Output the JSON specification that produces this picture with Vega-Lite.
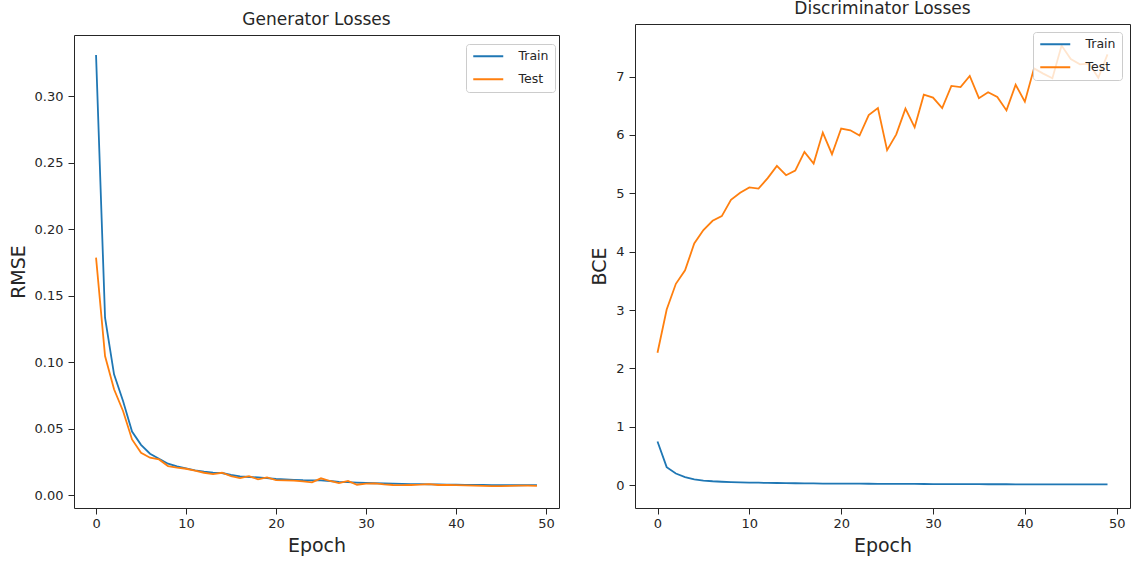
{
  "$schema": "https://vega.github.io/schema/vega-lite/v6.json",
  "padding": {"left": 9, "top": -1, "right": 0, "bottom": 0},
  "background": "white",
  "spacing": 31,
  "datasets": {
    "gen": [
      {"epoch": 0, "series": "Train", "loss": 0.331}, {"epoch": 1, "series": "Train", "loss": 0.1335}, {"epoch": 2, "series": "Train", "loss": 0.091}, {"epoch": 3, "series": "Train", "loss": 0.0709}, {"epoch": 4, "series": "Train", "loss": 0.048}, {"epoch": 5, "series": "Train", "loss": 0.038}, {"epoch": 6, "series": "Train", "loss": 0.0313}, {"epoch": 7, "series": "Train", "loss": 0.0275}, {"epoch": 8, "series": "Train", "loss": 0.0238}, {"epoch": 9, "series": "Train", "loss": 0.0218},
      {"epoch": 10, "series": "Train", "loss": 0.0203}, {"epoch": 11, "series": "Train", "loss": 0.0188}, {"epoch": 12, "series": "Train", "loss": 0.0178}, {"epoch": 13, "series": "Train", "loss": 0.017}, {"epoch": 14, "series": "Train", "loss": 0.0168}, {"epoch": 15, "series": "Train", "loss": 0.0153}, {"epoch": 16, "series": "Train", "loss": 0.0142}, {"epoch": 17, "series": "Train", "loss": 0.0138}, {"epoch": 18, "series": "Train", "loss": 0.0135}, {"epoch": 19, "series": "Train", "loss": 0.013},
      {"epoch": 20, "series": "Train", "loss": 0.0123}, {"epoch": 21, "series": "Train", "loss": 0.012}, {"epoch": 22, "series": "Train", "loss": 0.0117}, {"epoch": 23, "series": "Train", "loss": 0.0114}, {"epoch": 24, "series": "Train", "loss": 0.0113}, {"epoch": 25, "series": "Train", "loss": 0.0112}, {"epoch": 26, "series": "Train", "loss": 0.0108}, {"epoch": 27, "series": "Train", "loss": 0.0102}, {"epoch": 28, "series": "Train", "loss": 0.0099}, {"epoch": 29, "series": "Train", "loss": 0.0096},
      {"epoch": 30, "series": "Train", "loss": 0.0093}, {"epoch": 31, "series": "Train", "loss": 0.0091}, {"epoch": 32, "series": "Train", "loss": 0.009}, {"epoch": 33, "series": "Train", "loss": 0.0088}, {"epoch": 34, "series": "Train", "loss": 0.0087}, {"epoch": 35, "series": "Train", "loss": 0.0085}, {"epoch": 36, "series": "Train", "loss": 0.0084}, {"epoch": 37, "series": "Train", "loss": 0.0083}, {"epoch": 38, "series": "Train", "loss": 0.0082}, {"epoch": 39, "series": "Train", "loss": 0.0081},
      {"epoch": 40, "series": "Train", "loss": 0.008}, {"epoch": 41, "series": "Train", "loss": 0.0079}, {"epoch": 42, "series": "Train", "loss": 0.0078}, {"epoch": 43, "series": "Train", "loss": 0.0078}, {"epoch": 44, "series": "Train", "loss": 0.0077}, {"epoch": 45, "series": "Train", "loss": 0.0076}, {"epoch": 46, "series": "Train", "loss": 0.0076}, {"epoch": 47, "series": "Train", "loss": 0.0076}, {"epoch": 48, "series": "Train", "loss": 0.0077}, {"epoch": 49, "series": "Train", "loss": 0.0077},
      {"epoch": 0, "series": "Test", "loss": 0.1787}, {"epoch": 1, "series": "Test", "loss": 0.1047}, {"epoch": 2, "series": "Test", "loss": 0.0797}, {"epoch": 3, "series": "Test", "loss": 0.0634}, {"epoch": 4, "series": "Test", "loss": 0.042}, {"epoch": 5, "series": "Test", "loss": 0.032}, {"epoch": 6, "series": "Test", "loss": 0.0283}, {"epoch": 7, "series": "Test", "loss": 0.027}, {"epoch": 8, "series": "Test", "loss": 0.022}, {"epoch": 9, "series": "Test", "loss": 0.0208},
      {"epoch": 10, "series": "Test", "loss": 0.02}, {"epoch": 11, "series": "Test", "loss": 0.0185}, {"epoch": 12, "series": "Test", "loss": 0.017}, {"epoch": 13, "series": "Test", "loss": 0.016}, {"epoch": 14, "series": "Test", "loss": 0.017}, {"epoch": 15, "series": "Test", "loss": 0.0145}, {"epoch": 16, "series": "Test", "loss": 0.013}, {"epoch": 17, "series": "Test", "loss": 0.0145}, {"epoch": 18, "series": "Test", "loss": 0.012}, {"epoch": 19, "series": "Test", "loss": 0.0135},
      {"epoch": 20, "series": "Test", "loss": 0.0115}, {"epoch": 21, "series": "Test", "loss": 0.0112}, {"epoch": 22, "series": "Test", "loss": 0.011}, {"epoch": 23, "series": "Test", "loss": 0.0105}, {"epoch": 24, "series": "Test", "loss": 0.0098}, {"epoch": 25, "series": "Test", "loss": 0.0128}, {"epoch": 26, "series": "Test", "loss": 0.0108}, {"epoch": 27, "series": "Test", "loss": 0.0092}, {"epoch": 28, "series": "Test", "loss": 0.0108}, {"epoch": 29, "series": "Test", "loss": 0.008},
      {"epoch": 30, "series": "Test", "loss": 0.0088}, {"epoch": 31, "series": "Test", "loss": 0.009}, {"epoch": 32, "series": "Test", "loss": 0.0082}, {"epoch": 33, "series": "Test", "loss": 0.0078}, {"epoch": 34, "series": "Test", "loss": 0.0077}, {"epoch": 35, "series": "Test", "loss": 0.0078}, {"epoch": 36, "series": "Test", "loss": 0.008}, {"epoch": 37, "series": "Test", "loss": 0.0085}, {"epoch": 38, "series": "Test", "loss": 0.0078}, {"epoch": 39, "series": "Test", "loss": 0.0078},
      {"epoch": 40, "series": "Test", "loss": 0.0077}, {"epoch": 41, "series": "Test", "loss": 0.0075}, {"epoch": 42, "series": "Test", "loss": 0.0073}, {"epoch": 43, "series": "Test", "loss": 0.0072}, {"epoch": 44, "series": "Test", "loss": 0.007}, {"epoch": 45, "series": "Test", "loss": 0.007}, {"epoch": 46, "series": "Test", "loss": 0.0072}, {"epoch": 47, "series": "Test", "loss": 0.0073}, {"epoch": 48, "series": "Test", "loss": 0.0073}, {"epoch": 49, "series": "Test", "loss": 0.0072}
    ],
    "disc": [
      {"epoch": 0, "series": "Train", "loss": 0.75}, {"epoch": 1, "series": "Train", "loss": 0.31}, {"epoch": 2, "series": "Train", "loss": 0.2}, {"epoch": 3, "series": "Train", "loss": 0.14}, {"epoch": 4, "series": "Train", "loss": 0.1}, {"epoch": 5, "series": "Train", "loss": 0.08}, {"epoch": 6, "series": "Train", "loss": 0.068}, {"epoch": 7, "series": "Train", "loss": 0.06}, {"epoch": 8, "series": "Train", "loss": 0.054}, {"epoch": 9, "series": "Train", "loss": 0.05},
      {"epoch": 10, "series": "Train", "loss": 0.046}, {"epoch": 11, "series": "Train", "loss": 0.043}, {"epoch": 12, "series": "Train", "loss": 0.04}, {"epoch": 13, "series": "Train", "loss": 0.038}, {"epoch": 14, "series": "Train", "loss": 0.036}, {"epoch": 15, "series": "Train", "loss": 0.034}, {"epoch": 16, "series": "Train", "loss": 0.032}, {"epoch": 17, "series": "Train", "loss": 0.031}, {"epoch": 18, "series": "Train", "loss": 0.029}, {"epoch": 19, "series": "Train", "loss": 0.028},
      {"epoch": 20, "series": "Train", "loss": 0.027}, {"epoch": 21, "series": "Train", "loss": 0.026}, {"epoch": 22, "series": "Train", "loss": 0.026}, {"epoch": 23, "series": "Train", "loss": 0.025}, {"epoch": 24, "series": "Train", "loss": 0.024}, {"epoch": 25, "series": "Train", "loss": 0.024}, {"epoch": 26, "series": "Train", "loss": 0.023}, {"epoch": 27, "series": "Train", "loss": 0.022}, {"epoch": 28, "series": "Train", "loss": 0.022}, {"epoch": 29, "series": "Train", "loss": 0.021},
      {"epoch": 30, "series": "Train", "loss": 0.02}, {"epoch": 31, "series": "Train", "loss": 0.02}, {"epoch": 32, "series": "Train", "loss": 0.019}, {"epoch": 33, "series": "Train", "loss": 0.019}, {"epoch": 34, "series": "Train", "loss": 0.018}, {"epoch": 35, "series": "Train", "loss": 0.018}, {"epoch": 36, "series": "Train", "loss": 0.017}, {"epoch": 37, "series": "Train", "loss": 0.017}, {"epoch": 38, "series": "Train", "loss": 0.017}, {"epoch": 39, "series": "Train", "loss": 0.016},
      {"epoch": 40, "series": "Train", "loss": 0.016}, {"epoch": 41, "series": "Train", "loss": 0.015}, {"epoch": 42, "series": "Train", "loss": 0.015}, {"epoch": 43, "series": "Train", "loss": 0.015}, {"epoch": 44, "series": "Train", "loss": 0.014}, {"epoch": 45, "series": "Train", "loss": 0.014}, {"epoch": 46, "series": "Train", "loss": 0.014}, {"epoch": 47, "series": "Train", "loss": 0.013}, {"epoch": 48, "series": "Train", "loss": 0.013}, {"epoch": 49, "series": "Train", "loss": 0.013},
      {"epoch": 0, "series": "Test", "loss": 2.27}, {"epoch": 1, "series": "Test", "loss": 3.01}, {"epoch": 2, "series": "Test", "loss": 3.45}, {"epoch": 3, "series": "Test", "loss": 3.68}, {"epoch": 4, "series": "Test", "loss": 4.14}, {"epoch": 5, "series": "Test", "loss": 4.37}, {"epoch": 6, "series": "Test", "loss": 4.53}, {"epoch": 7, "series": "Test", "loss": 4.61}, {"epoch": 8, "series": "Test", "loss": 4.89}, {"epoch": 9, "series": "Test", "loss": 5.01},
      {"epoch": 10, "series": "Test", "loss": 5.1}, {"epoch": 11, "series": "Test", "loss": 5.08}, {"epoch": 12, "series": "Test", "loss": 5.26}, {"epoch": 13, "series": "Test", "loss": 5.47}, {"epoch": 14, "series": "Test", "loss": 5.31}, {"epoch": 15, "series": "Test", "loss": 5.39}, {"epoch": 16, "series": "Test", "loss": 5.71}, {"epoch": 17, "series": "Test", "loss": 5.51}, {"epoch": 18, "series": "Test", "loss": 6.04}, {"epoch": 19, "series": "Test", "loss": 5.67},
      {"epoch": 20, "series": "Test", "loss": 6.11}, {"epoch": 21, "series": "Test", "loss": 6.08}, {"epoch": 22, "series": "Test", "loss": 5.99}, {"epoch": 23, "series": "Test", "loss": 6.34}, {"epoch": 24, "series": "Test", "loss": 6.46}, {"epoch": 25, "series": "Test", "loss": 5.74}, {"epoch": 26, "series": "Test", "loss": 6.01}, {"epoch": 27, "series": "Test", "loss": 6.45}, {"epoch": 28, "series": "Test", "loss": 6.13}, {"epoch": 29, "series": "Test", "loss": 6.69},
      {"epoch": 30, "series": "Test", "loss": 6.64}, {"epoch": 31, "series": "Test", "loss": 6.46}, {"epoch": 32, "series": "Test", "loss": 6.84}, {"epoch": 33, "series": "Test", "loss": 6.82}, {"epoch": 34, "series": "Test", "loss": 7.01}, {"epoch": 35, "series": "Test", "loss": 6.63}, {"epoch": 36, "series": "Test", "loss": 6.73}, {"epoch": 37, "series": "Test", "loss": 6.65}, {"epoch": 38, "series": "Test", "loss": 6.42}, {"epoch": 39, "series": "Test", "loss": 6.86},
      {"epoch": 40, "series": "Test", "loss": 6.57}, {"epoch": 41, "series": "Test", "loss": 7.14}, {"epoch": 42, "series": "Test", "loss": 7.05}, {"epoch": 43, "series": "Test", "loss": 6.97}, {"epoch": 44, "series": "Test", "loss": 7.53}, {"epoch": 45, "series": "Test", "loss": 7.3}, {"epoch": 46, "series": "Test", "loss": 7.21}, {"epoch": 47, "series": "Test", "loss": 7.22}, {"epoch": 48, "series": "Test", "loss": 6.98}, {"epoch": 49, "series": "Test", "loss": 7.38}
    ]
  },
  "hconcat": [
    {
      "width": 485,
      "height": 484,
      "view": {"stroke": null},
      "title": {"text": "Generator Losses", "dy": 11},
      "data": {"name": "gen"},
      "layer": [
        {
          "transform": [{"filter": "datum.series === 'Train'"}],
          "mark": {"type": "line", "strokeWidth": 1.8, "clip": true},
          "encoding": {
            "x": {"field": "epoch", "type": "quantitative", "title": "Epoch",
                  "scale": {"domain": [-2.45, 51.45], "nice": false, "zero": false},
                  "axis": {"values": [0, 10, 20, 30, 40, 50], "format": "d", "domain": true, "domainColor": "#262626"}},
            "y": {"field": "loss", "type": "quantitative", "title": "RMSE",
                  "scale": {"domain": [-0.0095, 0.346], "nice": false, "zero": false, "range": [484, 11]},
                  "axis": {"values": [0, 0.05, 0.1, 0.15, 0.2, 0.25, 0.3], "format": ".2f", "domain": true, "domainColor": "#262626"}},
            "color": {"field": "series", "type": "nominal",
                      "scale": {"domain": ["Train", "Test"], "range": ["#1f77b4", "#ff7f0e"]},
                      "legend": {"title": null, "orient": "none", "legendX": 392, "legendY": 20}}
          }
        },
        {
          "transform": [{"filter": "datum.series === 'Test'"}],
          "mark": {"type": "line", "strokeWidth": 1.8, "clip": true},
          "encoding": {
            "x": {"field": "epoch", "type": "quantitative", "title": null,
                  "scale": {"domain": [-2.45, 51.45], "nice": false, "zero": false},
                  "axis": {"orient": "top", "offset": -11, "labels": false, "ticks": false, "domain": true, "domainColor": "#262626"}},
            "y": {"field": "loss", "type": "quantitative", "title": null,
                  "scale": {"domain": [-0.0095, 0.346], "nice": false, "zero": false, "range": [484, 11]},
                  "axis": {"orient": "right", "labels": false, "ticks": false, "domain": true, "domainColor": "#262626"}},
            "color": {"field": "series", "type": "nominal",
                      "scale": {"domain": ["Train", "Test"], "range": ["#1f77b4", "#ff7f0e"]},
                      "legend": {"title": null, "orient": "none", "legendX": 392, "legendY": 20}}
          }
        }
      ],
      "resolve": {"axis": {"x": "independent", "y": "independent"}}
    },
    {
      "width": 495,
      "height": 484,
      "title": {"text": "Discriminator Losses"},
      "data": {"name": "disc"},
      "mark": {"type": "line", "strokeWidth": 1.8, "clip": true},
      "encoding": {
        "x": {"field": "epoch", "type": "quantitative", "title": "Epoch",
              "scale": {"domain": [-2.45, 51.45], "nice": false, "zero": false},
              "axis": {"values": [0, 10, 20, 30, 40, 50], "format": "d"}},
        "y": {"field": "loss", "type": "quantitative", "title": "BCE",
              "scale": {"domain": [-0.39, 7.9], "nice": false, "zero": false},
              "axis": {"values": [0, 1, 2, 3, 4, 5, 6, 7], "format": "d"}},
        "color": {"field": "series", "type": "nominal",
                  "scale": {"domain": ["Train", "Test"], "range": ["#1f77b4", "#ff7f0e"]},
                  "legend": {"title": null, "orient": "top-right", "offset": 8}},
        "order": {"field": "epoch", "type": "quantitative"}
      }
    }
  ],
  "resolve": {"scale": {"color": "independent", "x": "independent", "y": "independent"}, "legend": {"color": "independent"}},
  "config": {
    "font": "DejaVu Sans",
    "view": {"stroke": "#262626", "strokeWidth": 1},
    "axis": {"grid": false, "domain": false, "domainWidth": 1, "tickColor": "#262626", "tickSize": 6, "labelPadding": 5,
             "labelFontSize": 13, "labelColor": "#262626", "titleFontSize": 19, "titleFontWeight": "normal",
             "titleColor": "#262626", "titlePadding": 6},
    "axisX": {"labelPadding": 3},
    "title": {"fontSize": 17, "fontWeight": "normal", "color": "#262626", "offset": 6, "anchor": "middle"},
    "legend": {"symbolType": "M-3,0H3", "symbolSize": 100, "symbolStrokeWidth": 2,
               "symbolOffset": 10, "labelFontSize": 12.5, "labelColor": "#262626", "fillColor": "rgba(255,255,255,0.8)",
               "strokeColor": "#cccccc", "cornerRadius": 3, "padding": 6, "rowPadding": 10, "labelOffset": 24}
  }
}
